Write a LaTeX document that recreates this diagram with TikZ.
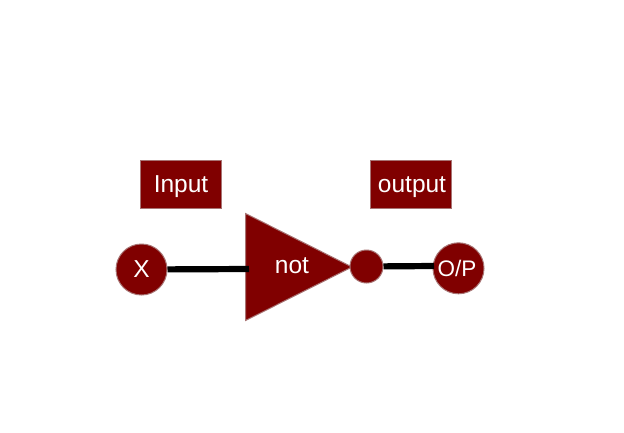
\documentclass[tikz,border=0pt]{standalone}
\usepackage{fontspec}
\setmainfont{Liberation Sans}
\definecolor{darkred}{HTML}{800000}
\definecolor{edgered}{HTML}{A87474}
\tikzset{
  shapebase/.style={fill=darkred,draw=edgered,line width=1pt},
  lab/.style={text=white,anchor=base,font=\fontsize{24.5}{28}\selectfont,inner sep=0pt},
  smalllab/.style={lab,font=\fontsize{22.5}{27}\selectfont},
  boxnode/.style={shapebase,rectangle,minimum width=81pt,minimum height=48pt,inner sep=0pt},
  disc/.style={shapebase,circle,minimum size=51pt,inner sep=0pt},
  wire/.style={line width=6.2pt,black},
}
\begin{document}
\begin{tikzpicture}[x=1pt,y=-1pt]
\useasboundingbox (0,0) rectangle (624,432);
\fill[white] (0,0) rectangle (624,432);
\coordinate (triin) at (249,269);
\coordinate (opin) at (434,266);
\draw[shapebase] (245.5,213.5) -- (352,267) -- (245.5,320.5) -- cycle;
\node[disc] (x) at (141.5,269.5) {};
\node[disc] (op) at (458.5,268.3) {};
\node[shapebase,circle,minimum size=33pt,inner sep=0pt] (bubble) at (366.5,266.5) {};
\node[boxnode] (input) at (180.5,184) {};
\node[boxnode] (output) at (411,184) {};
\draw[wire] (x) -- (triin);
\draw[wire] (bubble) -- (opin);
\node[lab] (xl) at (141.5,277.5) {X};
\node[smalllab] (opl) at (457,276.7) {O/P};
\node[lab] (notl) at (292,273) {not};
\node[lab] (inl) at (181,192) {Input};
\node[lab] (outl) at (412,192) {output};
\end{tikzpicture}
\end{document}
